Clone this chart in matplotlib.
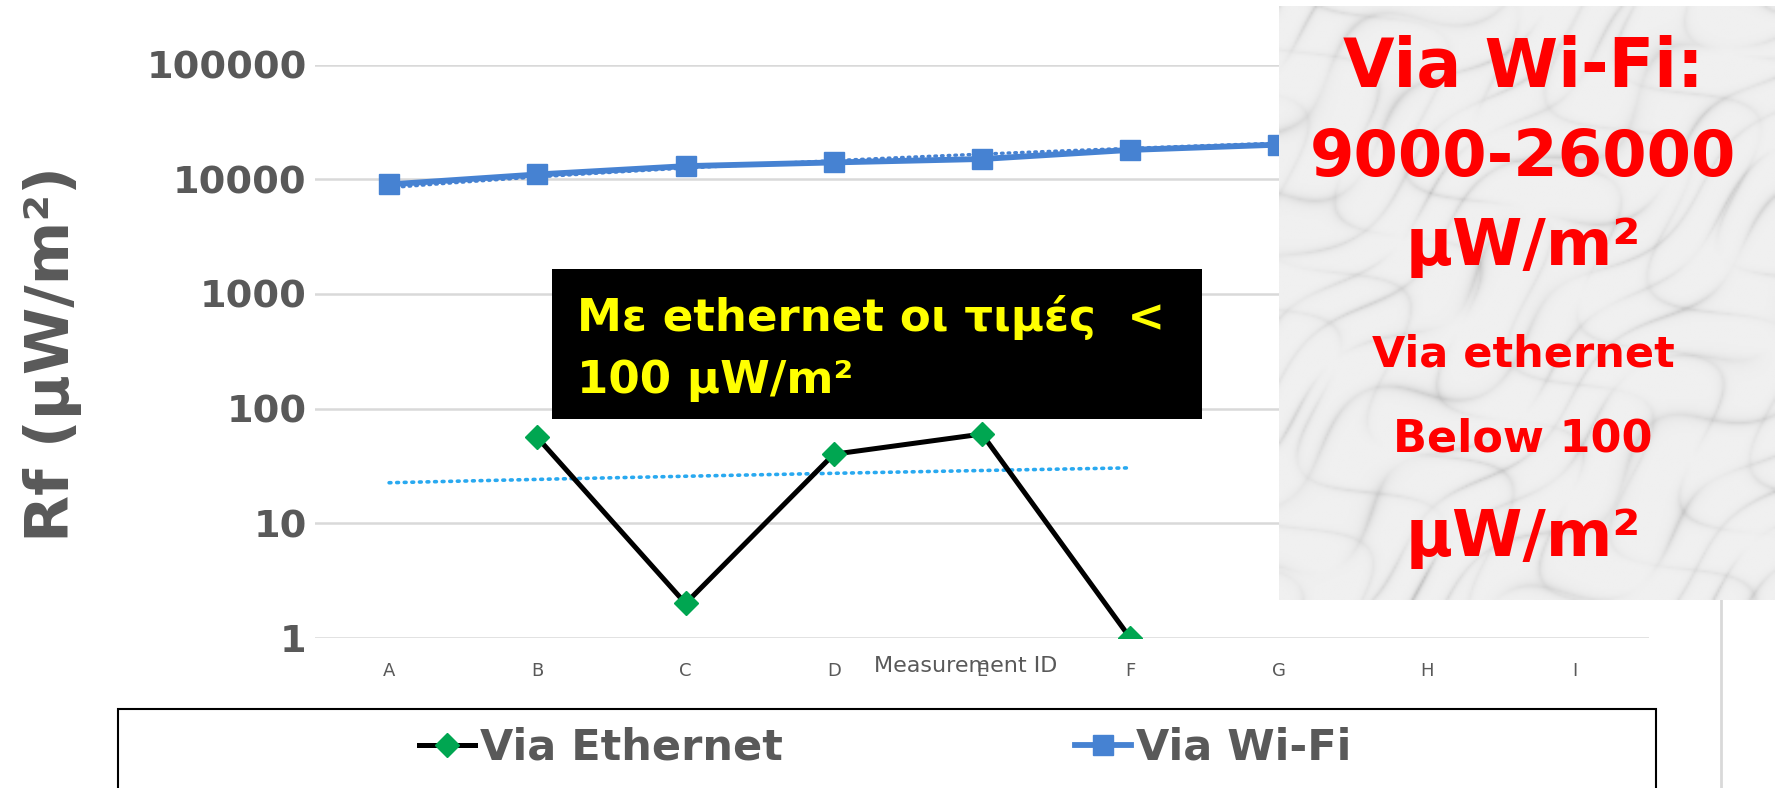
import numpy as np
import matplotlib
matplotlib.use('Agg')
import matplotlib.pyplot as plt
from matplotlib.patches import Rectangle
from matplotlib.lines import Line2D

categories = ['A', 'B', 'C', 'D', 'E', 'F', 'G', 'H', 'I']
ethernet = [0, 56, 2, 40, 60, 1, np.nan, np.nan, np.nan]
wifi = [9000, 11000, 13000, 14000, 15000, 18000, 20000, 23000, 26000]
ytick_vals = [1, 10, 100, 1000, 10000, 100000]
ytick_labels = ['1', '10', '100', '1000', '10000', '100000']

plt.rcParams['font.family'] = ['DejaVu Sans']

W, H = 1775, 788
fig = plt.figure(figsize=(W / 100, H / 100), dpi=100)


def fx(px):
    return px / W


def fy(py):
    return 1 - py / H


ax = fig.add_axes([fx(315), fy(638), fx(1649) - fx(315), fy(64.5) - fy(638)])
x = np.arange(len(categories))

gray = '#595959'

# Ethernet series (zeros can't be shown on log axis)
eth = np.array(ethernet, dtype=float)
eth_plot = np.where(eth > 0, eth, np.nan)
l_eth, = ax.plot(x, eth_plot, color='black', lw=3.6, marker='D', markersize=12,
                 markerfacecolor='#00A651', markeredgecolor='#00A651', zorder=4,
                 label='Via Ethernet')

# Wi-Fi series
wf = np.array(wifi, dtype=float)
l_wifi, = ax.plot(x, wf, color='#4682D2', lw=4.2, marker='s', markersize=14,
                  markerfacecolor='#4682D2', markeredgecolor='#4682D2', zorder=3,
                  label='Via Wi-Fi')

# Linear trendlines
m_eth = ~np.isnan(eth)
pe = np.polyfit(x[m_eth], eth[m_eth], 1)
xe = np.linspace(x[m_eth].min(), x[m_eth].max(), 100)
ax.plot(xe, np.polyval(pe, xe), color='#29A9F0', lw=2.6, ls=(0, (0.5, 1.6)),
        dash_capstyle='round', zorder=2)

pw = np.polyfit(x, wf, 1)
xw = np.linspace(x.min(), x.max(), 100)
ax.plot(xw, np.polyval(pw, xw), color='#4682D2', lw=2.4, ls=(0, (0.5, 1.5)),
        dash_capstyle='round', zorder=2)

ax.set_yscale('log')
ax.set_ylim(1, 100000)
ax.set_xlim(-0.5, len(categories) - 0.5)
ax.set_yticks(ytick_vals)
ax.set_yticklabels(ytick_labels)
ax.yaxis.set_minor_locator(matplotlib.ticker.NullLocator())
ax.set_xticks(x)
ax.set_xticklabels(categories)
ax.grid(axis='y', color='#D9D9D9', lw=1.8)
ax.set_axisbelow(True)
for s in ax.spines.values():
    s.set_visible(False)
ax.tick_params(axis='y', length=0, pad=6, labelsize=27.5, labelcolor=gray)
for t in ax.get_yticklabels():
    t.set_fontweight('bold')
ax.tick_params(axis='x', length=0, pad=17, labelsize=13, labelcolor=gray)

fig.text(fx(53), fy(354), 'Rf (μW/m²)', rotation=90, ha='center', va='center',
         fontsize=44, fontweight='bold', color=gray)
fig.text(fx(966), fy(666), 'Measurement ID', ha='center', va='center',
         fontsize=16, color=gray)

# Black annotation box
fig.add_artist(Rectangle((fx(552), fy(419)), fx(1202) - fx(552), fy(269) - fy(419),
                         transform=fig.transFigure, facecolor='black', edgecolor='none',
                         zorder=5))
fig.text(fx(577), fy(317), 'Με ethernet οι τιμές  <', ha='left', va='center',
         fontsize=32.5, fontweight='bold', color='#FFFF00', zorder=6)
fig.text(fx(577), fy(380), '100 μW/m²', ha='left', va='center',
         fontsize=32.5, fontweight='bold', color='#FFFF00', zorder=6)

# Marble-like box (decorative texture)
max_ = fig.add_axes([fx(1279), fy(600), fx(1775) - fx(1279), fy(6) - fy(600)], zorder=5)
yy, xx = np.mgrid[0:300, 0:250].astype(float)
v1 = np.sin((xx * 0.7 + yy * 0.9) / 9.0 + 2.5 * np.sin(xx / 23.0) * np.cos(yy / 31.0))
v2 = np.sin((xx * 0.9 - yy * 0.5) / 13.0 + 2.0 * np.cos(xx / 37.0 + yy / 19.0))
veins = np.exp(-np.abs(v1) * 5) * 0.6 + np.exp(-np.abs(v2) * 7) * 0.4
shade = 0.5 + 0.5 * np.sin(xx / 17.0 + yy / 29.0) * np.cos(yy / 11.0 - xx / 41.0)
img = 0.94 - 0.22 * veins * shade
max_.imshow(img, cmap='gray', vmin=0, vmax=1, aspect='auto', interpolation='bilinear')
max_.set_axis_off()

red = '#FF0000'
cx = fx(1523)
fig.text(cx, fy(68), 'Via Wi-Fi:', ha='center', va='center', fontsize=48,
         fontweight='bold', color=red, zorder=6)
fig.text(cx, fy(158), '9000-26000', ha='center', va='center', fontsize=46,
         fontweight='bold', color=red, zorder=6)
fig.text(cx, fy(247), 'μW/m²', ha='center', va='center', fontsize=46,
         fontweight='bold', color=red, zorder=6)
fig.text(cx, fy(354), 'Via ethernet', ha='center', va='center', fontsize=31,
         fontweight='bold', color=red, zorder=6)
fig.text(cx, fy(439), 'Below 100', ha='center', va='center', fontsize=32,
         fontweight='bold', color=red, zorder=6)
fig.text(cx, fy(538), 'μW/m²', ha='center', va='center', fontsize=46,
         fontweight='bold', color=red, zorder=6)

# Thin vertical line on right
fig.add_artist(Line2D([fx(1721), fx(1721)], [fy(600), 0], transform=fig.transFigure,
                      color='#D9D9D9', lw=2))

# Legend box
fig.add_artist(Rectangle((fx(118), -0.02), fx(1656) - fx(118), fy(709) + 0.02,
                         transform=fig.transFigure, facecolor='white', edgecolor='black',
                         lw=1.5, zorder=1))
leg_props = dict(size=31, weight='bold')
fig.legend(handles=[l_eth], loc='center left', bbox_to_anchor=(fx(419), fy(748)),
           frameon=False, borderpad=0, borderaxespad=0, handlelength=1.3,
           handletextpad=0.12, prop=leg_props, labelcolor=gray)
fig.legend(handles=[l_wifi], loc='center left', bbox_to_anchor=(fx(1075), fy(748)),
           frameon=False, borderpad=0, borderaxespad=0, handlelength=1.3,
           handletextpad=0.12, prop=leg_props, labelcolor=gray)

fig.savefig('out.png', dpi=100)
